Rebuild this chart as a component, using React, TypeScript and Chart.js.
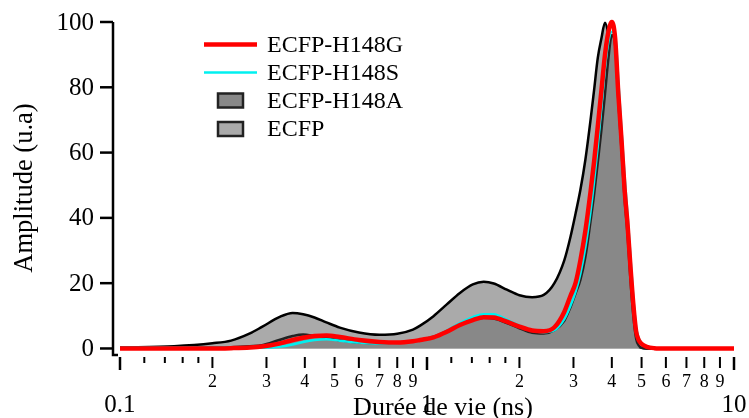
import React, { useEffect, useRef } from "react";
import { Chart, registerables } from "chart.js";

Chart.register(...registerables);

const lifetimes = [
  0.1, 0.15, 0.2, 0.23, 0.265, 0.29, 0.33, 0.365, 0.395, 0.43, 0.47, 0.52, 0.6, 0.7, 0.8, 0.9, 0.95,
  1.05, 1.16, 1.28, 1.41, 1.53, 1.65, 1.82, 2.0, 2.2, 2.4, 2.6, 2.8, 2.93, 3.05, 3.16, 3.28, 3.41,
  3.5, 3.6, 3.7, 3.8, 3.9, 4.0, 4.1, 4.2, 4.3, 4.4, 4.5, 4.6, 4.7, 4.8, 4.9, 5.0, 5.2, 5.5, 6, 10,
];

const ecfp = [
  0.3, 0.7, 1.6, 2.4, 4.6, 6.6, 9.6, 10.9, 10.5, 9.5, 8.0, 6.4, 4.9, 4.2, 4.5, 5.8, 7.0,
  9.9, 13.5, 17.0, 19.6, 20.4, 19.9, 18.0, 16.3, 15.7, 16.4, 20.0, 27.0, 34.0, 41.5, 48.6, 57.8, 70,
  79, 89, 95, 99.8, 96, 88, 75, 60, 44, 28, 15, 7, 3, 1.2, 0.5, 0.2, 0, 0, 0, 0,
];

const h148a = [
  0.2, 0.2, 0.3, 0.4, 0.7, 1.0, 2.6, 3.8, 4.3, 3.8, 3.2, 2.5, 1.8, 1.6, 1.8, 2.3, 2.6,
  3.6, 5.4, 7.5, 8.9, 9.4, 9.2, 7.8, 6.2, 4.8, 4.6, 5.6, 8.5, 12.5, 17, 21, 28, 39,
  47, 57, 67, 78, 89, 96, 93, 76, 61, 46, 35, 21, 10, 3, 0.9, 0.2, 0, 0, 0, 0,
];

const h148s = [
  0.2, 0.2, 0.2, 0.2, 0.2, 0.2, 0.5, 1.2, 2.0, 2.6, 2.8, 2.4, 1.8, 1.5, 1.7, 2.2, 2.6,
  3.6, 5.5, 7.8, 9.6, 10.5, 10.5, 8.8, 7.0, 5.4, 5.0, 5.6, 9.0, 13, 17.5, 23, 31, 42,
  51, 62, 74, 86, 94, 97, 96, 82, 67, 53, 41, 28, 15.5, 6.5, 3, 1.6, 0.6, 0.1, 0, 0,
];

const h148g = [
  0, 0, 0, 0.1, 0.3, 0.6, 1.5, 2.6, 3.3, 3.8, 4.0, 3.5, 2.6, 2.0, 1.8, 2.2, 2.6,
  3.4, 5.1, 7.2, 8.7, 9.6, 9.5, 8.2, 6.7, 5.5, 5.3, 6.5, 11.2, 16, 20.2, 27, 36, 48,
  57, 68, 79, 90, 97, 100, 95, 78, 64, 49, 38, 25, 13.5, 5.2, 2.5, 1.4, 0.5, 0.1, 0, 0,
];

const yTicks = [0, 20, 40, 60, 80, 100];
const xShortTicks = [0.12, 0.14, 0.16, 0.18, 1.2, 1.4, 1.6, 1.8];
const xDigitTicks = [0.2, 0.3, 0.4, 0.5, 0.6, 0.7, 0.8, 0.9, 2, 3, 4, 5, 6, 7, 8, 9];
const xDigitLabels = ["2", "3", "4", "5", "6", "7", "8", "9", "2", "3", "4", "5", "6", "7", "8", "9"];
const xDecadeTicks = [0.1, 1, 10];
const xDecadeLabels = ["0.1", "1", "10"];

const seriesNames = ["ECFP-H148G", "ECFP-H148S", "ECFP-H148A", "ECFP"];

const SERIF = "'Liberation Serif', 'Times New Roman', serif";

const pts = (vals: number[]) => lifetimes.map((x, i) => ({ x, y: vals[i] }));

const axesPlugin = {
  id: "igorAxes",
  afterDraw(chart: any) {
    const ctx = chart.ctx as CanvasRenderingContext2D;
    const xs = chart.scales.x;
    const ys = chart.scales.y;
    const area = chart.chartArea;
    ctx.save();
    ctx.strokeStyle = "#000";
    ctx.fillStyle = "#000";
    ctx.lineCap = "butt";

    // Y axis line
    ctx.lineWidth = 2.5;
    ctx.beginPath();
    ctx.moveTo(area.left, area.top);
    ctx.lineTo(area.left, area.bottom);
    ctx.lineTo(area.left + 5, area.bottom);
    ctx.stroke();

    // Y ticks and labels
    ctx.lineWidth = 2.5;
    ctx.font = `25px ${SERIF}`;
    ctx.textAlign = "right";
    ctx.textBaseline = "middle";
    yTicks.forEach((v) => {
      const y = ys.getPixelForValue(v);
      ctx.beginPath();
      ctx.moveTo(area.left - 13, y);
      ctx.lineTo(area.left, y);
      ctx.stroke();
      ctx.fillText(String(v), area.left - 19, y + 1);
    });

    // Y title
    ctx.save();
    ctx.translate(32, 188);
    ctx.rotate(-Math.PI / 2);
    ctx.textAlign = "center";
    ctx.textBaseline = "alphabetic";
    ctx.font = `26.5px ${SERIF}`;
    ctx.fillText("Amplitude (u.a)", 0, 0);
    ctx.restore();

    // X ticks
    const top = area.bottom + 2;
    ctx.lineWidth = 2;
    xShortTicks.forEach((v) => {
      const x = xs.getPixelForValue(v);
      ctx.beginPath();
      ctx.moveTo(x, top);
      ctx.lineTo(x, top + 6);
      ctx.stroke();
    });
    ctx.font = `18px ${SERIF}`;
    ctx.textAlign = "center";
    ctx.textBaseline = "alphabetic";
    xDigitTicks.forEach((v, i) => {
      const x = xs.getPixelForValue(v);
      ctx.beginPath();
      ctx.moveTo(x, top);
      ctx.lineTo(x, top + 11);
      ctx.stroke();
      ctx.fillText(xDigitLabels[i], x, 387);
    });
    ctx.lineWidth = 2.5;
    ctx.font = `25px ${SERIF}`;
    xDecadeTicks.forEach((v, i) => {
      const x = xs.getPixelForValue(v);
      ctx.beginPath();
      ctx.moveTo(x, top);
      ctx.lineTo(x, top + 13);
      ctx.stroke();
      ctx.fillText(xDecadeLabels[i], x, 412);
    });

    // X title
    ctx.font = `26px ${SERIF}`;
    ctx.fillText("Durée de vie (ns)", 443, 415);

    // Legend
    const ds = chart.data.datasets;
    const rows = [44.5, 72.5, 100.5, 129];
    ctx.font = `24px ${SERIF}`;
    ctx.textAlign = "left";
    ctx.textBaseline = "middle";
    rows.forEach((ry, i) => {
      const d = ds[i];
      if (d.fill) {
        ctx.fillStyle = d.backgroundColor;
        ctx.strokeStyle = "#222";
        ctx.lineWidth = 2.5;
        ctx.fillRect(218, ry - 7, 25, 14);
        ctx.strokeRect(218, ry - 7, 25, 14);
      } else {
        ctx.strokeStyle = d.borderColor;
        ctx.lineWidth = d.borderWidth;
        ctx.beginPath();
        ctx.moveTo(204, ry);
        ctx.lineTo(257, ry);
        ctx.stroke();
      }
      ctx.fillStyle = "#000";
      ctx.fillText(d.label, 267, ry + 1);
    });

    ctx.restore();
  },
};

export default function App() {
  const ref = useRef<HTMLCanvasElement>(null);

  useEffect(() => {
    if (!ref.current) return;
    const chart = new Chart(ref.current, {
      type: "line",
      data: {
        datasets: [
          {
            label: seriesNames[0],
            data: pts(h148g),
            borderColor: "#ff0000",
            borderWidth: 4.5,
            fill: false,
            pointRadius: 0,
            cubicInterpolationMode: "monotone",
            clip: 10,
          },
          {
            label: seriesNames[1],
            data: pts(h148s),
            borderColor: "#00f0f0",
            borderWidth: 2.5,
            fill: false,
            pointRadius: 0,
            cubicInterpolationMode: "monotone",
            clip: 10,
          },
          {
            label: seriesNames[2],
            data: pts(h148a),
            borderColor: "#222222",
            backgroundColor: "#888888",
            borderWidth: 2.5,
            fill: "origin",
            pointRadius: 0,
            cubicInterpolationMode: "monotone",
            clip: 10,
          },
          {
            label: seriesNames[3],
            data: pts(ecfp),
            borderColor: "#000000",
            backgroundColor: "#aaaaaa",
            borderWidth: 2.5,
            fill: "origin",
            pointRadius: 0,
            cubicInterpolationMode: "monotone",
            clip: 10,
          },
        ],
      } as any,
      options: {
        animation: false,
        responsive: false,
        devicePixelRatio: 1,
        layout: { padding: { left: 113, right: 15, top: 22, bottom: 63 } },
        plugins: { legend: { display: false }, tooltip: { enabled: false } },
        scales: {
          x: { type: "logarithmic", display: false, min: 0.09489, max: 10 },
          y: { type: "linear", display: false, min: -2, max: 100 },
        },
      } as any,
      plugins: [axesPlugin],
    });
    return () => chart.destroy();
  }, []);

  return (
    <canvas
      ref={ref}
      width={749}
      height={418}
      style={{ position: "fixed", left: 0, top: 0, width: 749, height: 418, background: "#fff" }}
    />
  );
}
